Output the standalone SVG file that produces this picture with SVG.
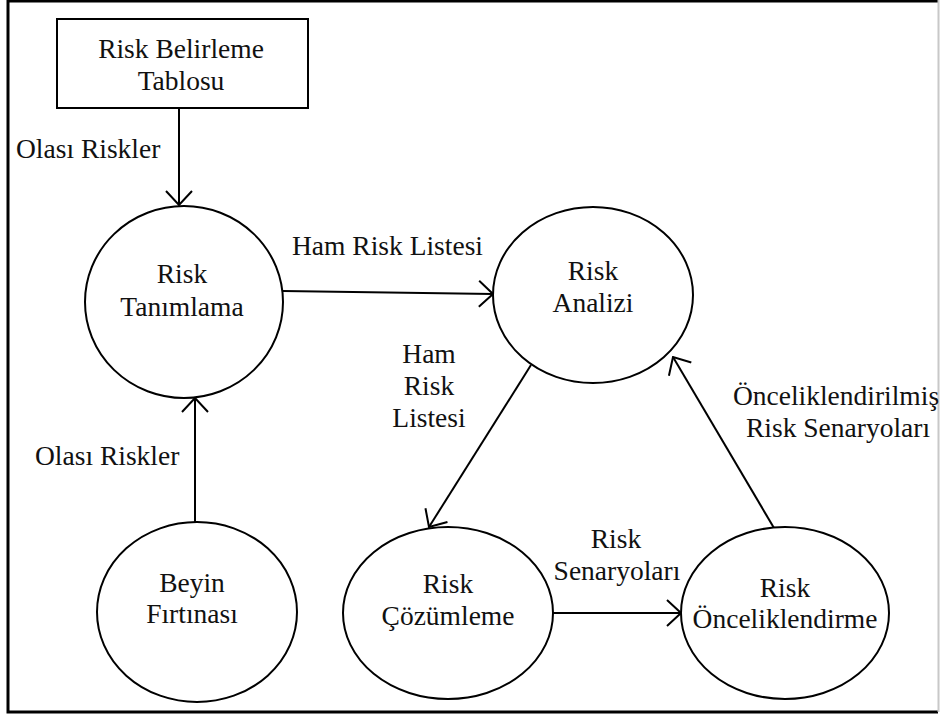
<svg xmlns="http://www.w3.org/2000/svg" width="940" height="715" viewBox="0 0 940 715">
  <style>
    .shape { fill: #ffffff; stroke: #000000; stroke-width: 2; }
    .edge { fill: none; stroke: #000000; stroke-width: 2; }
    text { font-family: "Liberation Serif", "Times New Roman", serif; font-size: 27.5px; fill: #111111; }
    .c { text-anchor: middle; }
  </style>
  <defs>
    <marker id="open-arrow" viewBox="0 0 16 28" refX="15" refY="14" markerWidth="16" markerHeight="28" markerUnits="userSpaceOnUse" orient="auto">
      <path d="M1,1 L15,14 L1,27" fill="none" stroke="#000000" stroke-width="2"/>
    </marker>
  </defs>

  <rect width="940" height="715" fill="#ffffff"/>

  <!-- frame -->
  <g id="frame">
    <path d="M938,1 L8,1 L8,712 L938,712" fill="none" stroke="#000000" stroke-width="3"/>
    <line x1="938.5" y1="0" x2="938.5" y2="712" stroke="#c8c8c8" stroke-width="2"/>
  </g>

  <!-- connectors -->
  <g id="connectors">
    <line class="edge" x1="179" y1="108" x2="179" y2="205" marker-end="url(#open-arrow)"/>
    <text x="16" y="158">Olası Riskler</text>

    <line class="edge" x1="283" y1="291" x2="493" y2="294" marker-end="url(#open-arrow)"/>
    <text x="292" y="255">Ham Risk Listesi</text>

    <line class="edge" x1="531" y1="365" x2="429" y2="527" marker-end="url(#open-arrow)"/>
    <text class="c" x="429" y="363">Ham</text>
    <text class="c" x="429" y="395">Risk</text>
    <text class="c" x="429" y="427">Listesi</text>

    <line class="edge" x1="552" y1="613" x2="681" y2="613" marker-end="url(#open-arrow)"/>
    <text class="c" x="616" y="548">Risk</text>
    <text class="c" x="617" y="580">Senaryoları</text>

    <line class="edge" x1="774" y1="528" x2="673" y2="357" marker-end="url(#open-arrow)"/>
    <text class="c" x="836" y="405">Önceliklendirilmiş</text>
    <text class="c" x="838" y="437">Risk Senaryoları</text>

    <line class="edge" x1="195" y1="522" x2="195" y2="398" marker-end="url(#open-arrow)"/>
    <text x="35" y="465">Olası Riskler</text>
  </g>

  <!-- nodes -->
  <g id="risk-belirleme-tablosu">
    <rect class="shape" x="57" y="19" width="251" height="89"/>
    <text class="c" x="181" y="58">Risk Belirleme</text>
    <text class="c" x="181" y="90">Tablosu</text>
  </g>

  <g id="risk-tanimlama">
    <ellipse class="shape" cx="184" cy="302" rx="99" ry="96"/>
    <text class="c" x="182" y="283">Risk</text>
    <text class="c" x="182" y="316">Tanımlama</text>
  </g>

  <g id="risk-analizi">
    <ellipse class="shape" cx="593" cy="295" rx="100" ry="88"/>
    <text class="c" x="593" y="280">Risk</text>
    <text class="c" x="593" y="312">Analizi</text>
  </g>

  <g id="risk-cozumleme">
    <ellipse class="shape" cx="448" cy="613" rx="105" ry="86"/>
    <text class="c" x="448" y="593">Risk</text>
    <text class="c" x="448" y="625">Çözümleme</text>
  </g>

  <g id="risk-onceliklendirme">
    <ellipse class="shape" cx="785" cy="613" rx="104" ry="86"/>
    <text class="c" x="785" y="597">Risk</text>
    <text class="c" x="785" y="628">Önceliklendirme</text>
  </g>

  <g id="beyin-firtinasi">
    <ellipse class="shape" cx="197" cy="612" rx="100" ry="90"/>
    <text class="c" x="192" y="592">Beyin</text>
    <text class="c" x="192" y="623">Fırtınası</text>
  </g>
</svg>
